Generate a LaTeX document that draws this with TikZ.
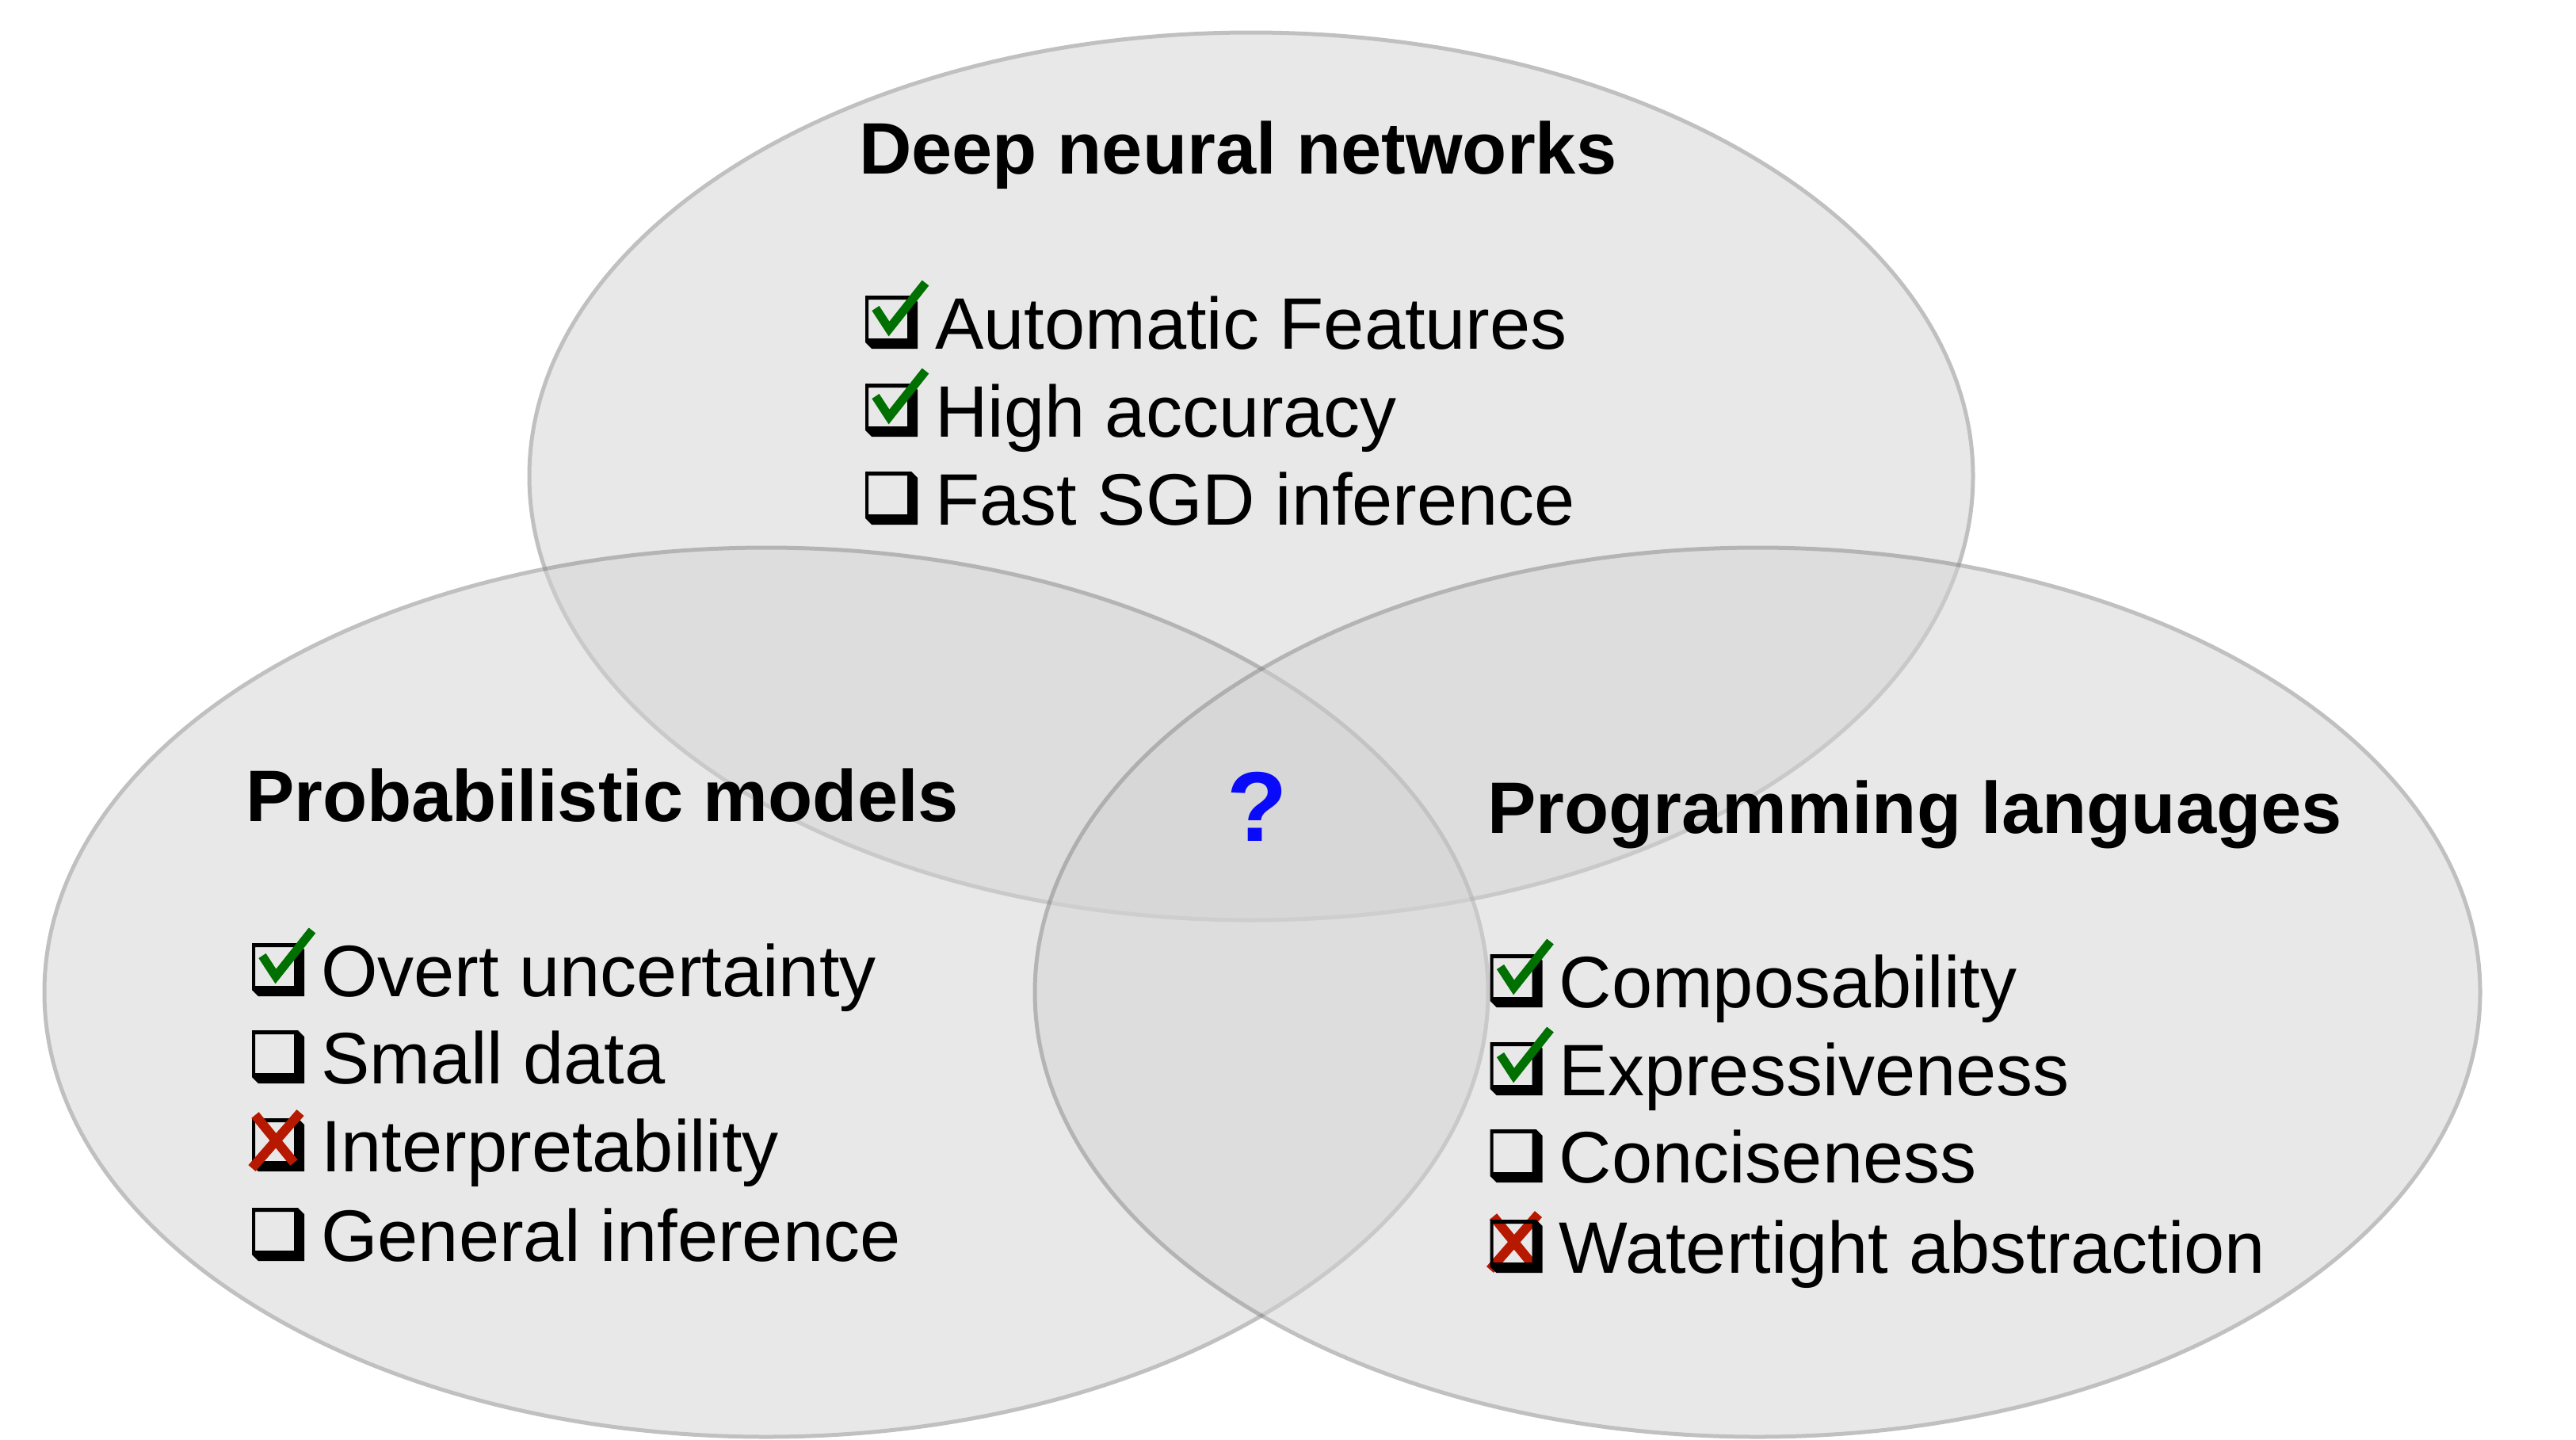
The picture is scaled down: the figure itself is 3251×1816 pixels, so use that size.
\documentclass[tikz,border=0pt]{standalone}
\usepackage{fontspec}
\setmainfont{Liberation Sans}
\definecolor{ellfill}{RGB}{210,210,210}
\definecolor{ellline}{RGB}{132,132,132}
\definecolor{okgreen}{RGB}{0,112,0}
\definecolor{badred}{RGB}{182,24,0}
\definecolor{qblue}{RGB}{10,10,250}
\tikzset{
  item/.style={anchor=base west, inner sep=0pt, font=\fontsize{92}{100}\selectfont},
  title/.style={anchor=base west, inner sep=0pt, font=\fontsize{92}{100}\selectfont\bfseries},
  venn/.style={fill=ellfill, draw=ellline, line width=5pt},
  cbox/.pic={\fill[black,even odd rule] (0,0)--(58,0)--(66,8)--(66,67)--(8,67)--(0,59)--cycle (4,5) rectangle (53,54);},
  tick/.pic={\draw[okgreen, line width=11pt, line join=miter] (13,16)--(30,42)--(76,-16);},
  cross/.pic={\draw[badred, line width=12pt] (4,-4)--(53,56) (61,-7)--(0,63);}
}
\begin{document}
\begin{tikzpicture}[x=1pt,y=-1pt]
\useasboundingbox (0,0) rectangle (3251,1816);
% ellipses
\begin{scope}[transparency group, opacity=0.51]
  \draw[venn] (1579,601) ellipse [x radius=911, y radius=560];
\end{scope}
\begin{scope}[transparency group, opacity=0.51]
  \draw[venn] (967,1252) ellipse [x radius=911, y radius=561];
\end{scope}
\begin{scope}[transparency group, opacity=0.51]
  \draw[venn] (2218,1252) ellipse [x radius=912, y radius=561];
\end{scope}

% top block
\node[title] (tdnn) at (1084,219) {Deep neural networks};
\node[item] (t1) at (1180,440) {Automatic Features};
\node[item] (t2) at (1180,551) {High accuracy};
\node[item] (t3) at (1180,662) {Fast SGD inference};
\pic at (1092,373) {cbox}; \pic at (1092,373) {tick};
\pic at (1092,484) {cbox}; \pic at (1092,484) {tick};
\pic at (1092,595) {cbox};

% left block
\node[title] (tprob) at (310,1036) {Probabilistic models};
\node[item] (l1) at (405,1257) {Overt uncertainty};
\node[item] (l2) at (405,1367) {Small data};
\node[item] (l3) at (405,1478) {Interpretability};
\node[item] (l4) at (405,1591) {General inference};
\pic at (318,1190) {cbox}; \pic at (318,1190) {tick};
\pic at (318,1300) {cbox};
\pic at (318,1411) {cbox}; \pic at (318,1411) {cross};
\pic at (318,1524) {cbox};

% right block
\node[title] (tprog) at (1877,1051) {Programming languages};
\node[item] (r1) at (1967.5,1271) {Composability};
\node[item] (r2) at (1967.5,1382) {Expressiveness};
\node[item] (r3) at (1967.5,1492) {Conciseness};
\node[item] (r4) at (1967.5,1606) {Watertight abstraction};
\pic at (1880.5,1204) {cbox}; \pic at (1880.5,1204) {tick};
\pic at (1880.5,1315) {cbox}; \pic at (1880.5,1315) {tick};
\pic at (1880.5,1425) {cbox};
\pic at (1880.5,1539) {cross}; \pic at (1880.5,1539) {cbox};

% center
\node[anchor=base, inner sep=0pt, text=qblue, font=\fontsize{125}{130}\selectfont\bfseries] (qmark) at (1587,1061) {?};
\end{tikzpicture}
\end{document}
